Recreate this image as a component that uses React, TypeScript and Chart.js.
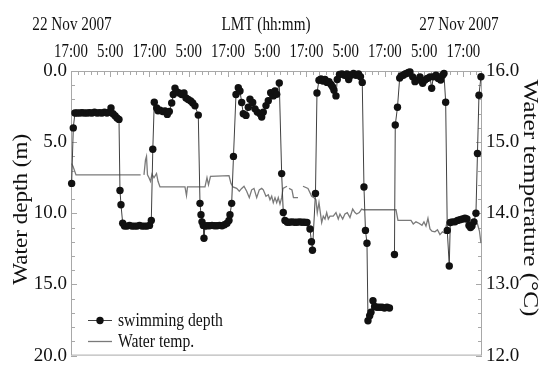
import React, { useEffect, useRef } from 'react';
import { Chart, registerables } from 'chart.js';

Chart.register(...registerables);

// hours since 22 Nov 2007 17:00 LMT
const depthHours = [
  0.2, 0.7, 1.2, 1.83, 2.6, 3.36, 4.13, 4.89, 5.66, 6.42, 7.19, 7.95, 8.72, 9.48, 10.24, 11.0, 11.77, 12.23, 12.84, 13.46, 14.07, 14.68,
  14.98, 15.29, 15.81, 16.36, 17.13, 17.89, 18.65, 19.42, 20.18, 20.95, 21.71, 22.48, 23.24, 24.01, 24.56, 25.02, 25.47,
  26.21, 26.61, 27.22, 28.04, 28.75, 29.45, 30.06, 30.8, 31.28, 31.8, 32.32, 33.12, 33.85, 34.56, 35.17, 35.87, 36.61, 37.22, 37.92, 38.93,
  39.45, 39.76, 40.06, 40.46, 40.67, 40.98, 41.59, 42.35, 43.12, 43.88, 44.65, 45.41, 46.18, 46.94, 47.71, 48.32,
  48.62, 49.14, 49.69, 50.46, 51.16, 51.68, 52.2, 52.69, 53.52, 54.22, 54.74, 55.57, 56.27, 56.97, 57.8, 58.32, 58.81, 59.63, 60.34, 61.07, 61.87, 62.39, 62.91, 63.7,
  64.43, 64.92, 65.44, 66.15, 66.82, 67.58, 68.35, 69.11, 69.88, 70.64, 71.41, 72.17, 73.09, 73.55, 73.85, 74.77, 75.23, 75.84,
  76.45, 77.06, 77.68, 78.29, 78.9, 79.51, 79.97, 80.43, 81.04, 81.44, 82.11, 82.87, 83.64, 84.4, 84.92, 85.63, 86.39, 87.16, 87.92, 88.53, 89.08,
  89.6, 90.06, 90.52, 90.83, 91.35, 91.74, 92.35, 92.87, 93.58, 94.34, 95.11, 95.87, 96.64, 97.4, 98.2, 98.93, 99.17, 99.85, 100.52,
  100.95, 101.62, 102.2, 102.66, 103.2, 103.67, 104.5, 105.2, 105.9, 106.73, 107.55, 108.26, 108.96, 109.79, 110.31, 110.8, 111.62, 112.32, 113.06, 113.67, 114.07,
  114.59, 115.08, 115.69, 116.0, 116.67, 117.43, 118.2, 118.96, 119.72, 120.49, 121.1, 121.71, 122.17, 122.63, 123.24, 123.85, 124.31, 124.77, 125.38,
];
const depthValues = [
  7.9, 4.0, 2.95, 2.95, 2.95, 2.93, 2.95, 2.95, 2.93, 2.95, 2.9, 2.95, 2.93, 2.95, 2.9, 2.95, 2.9, 2.6, 3.0, 3.15, 3.3, 3.4,
  8.4, 9.4, 10.7, 10.9, 10.9, 10.85, 10.9, 10.9, 10.9, 10.85, 10.9, 10.9, 10.9, 10.85, 10.5, 5.5, 2.2,
  2.6, 2.8, 2.75, 2.85, 2.8, 3.05, 2.85, 2.25, 1.65, 1.2, 1.45, 1.55, 1.65, 1.55, 1.9, 2.0, 2.1, 2.25, 2.45, 3.1,
  9.3, 10.1, 10.6, 10.85, 11.75, 10.9, 10.87, 10.87, 10.85, 10.87, 10.87, 10.85, 10.87, 10.8, 10.7, 10.5,
  10.1, 9.3, 6.0, 1.65, 1.18, 1.41, 2.21, 3.0, 3.12, 2.55, 1.98, 2.21, 2.66, 2.89, 3.0, 3.23, 2.89, 2.43, 2.09, 1.52, 1.75, 1.41, 1.64, 0.84,
  7.21, 9.94, 10.51, 10.63, 10.63, 10.6, 10.63, 10.63, 10.6, 10.63, 10.63, 10.65, 11.1, 12.0, 12.6, 8.6, 1.55, 0.65,
  0.55, 0.7, 0.6, 0.8, 0.75, 0.95, 1.1, 1.35, 1.75, 0.6, 0.25, 0.2, 0.3, 0.2, 0.6, 0.3, 0.18, 0.3, 0.2, 0.4, 0.8,
  8.15, 11.2, 12.1, 17.55, 17.2, 16.95, 16.15, 16.55, 16.6, 16.6, 16.6, 16.65, 16.6, 16.65, null, 12.9, 3.8, 2.55, 0.5,
  0.35, 0.3, 0.2, 0.18, 0.1, 0.07, 0.41, 0.75, 0.64, 0.41, 0.86, 0.64, 0.52, 0.41, 1.21, 0.41, 0.3, 0.52, 0.64, 0.3, 0.18,
  2.2, 11.2, 13.7, 10.65, 10.6, 10.6, 10.5, 10.45, 10.4, 10.35, 10.4, 10.85, 11.0, 10.9, 10.6, 10.0, 5.8, 1.7, 0.4,
];

const tempHours = [
  0.15, 0.61, 1.53, 8.87, 16.51, 21.3, 21.6, 22.32, 22.78, 23.09, 23.39, 23.85, 24.31, 24.77, 25.38, 26.15, 26.61, 27.22,
  34.86, 35.32, 35.63, 40.98, 41.59, 42.05, 42.66, 48.32, 48.93, 49.54,
  50.67, 51.47, 52.2, 52.91, 53.73, 54.53, 55.26, 55.96, 56.79, 57.58, 58.32, 58.81, 59.63, 60.34, 60.86, 61.38, 61.87, 62.39, 62.91, 63.39, 63.91, 64.43,
  64.83, 66.06, 66.3, 66.67, 67.58, 68.04, 69.42, 70.0, 70.95, 72.48, 73.61, 74.31, 74.92, 75.32, 75.84,
  76.67, 77.16, 77.68, 78.2, 78.69, 79.2, 80.21, 81.04, 81.74, 82.26, 83.09, 83.79, 84.5, 85.32, 86.15, 86.85, 87.37, 88.17, 88.9,
  89.39, 99.39, 100.0, 103.98, 104.68, 105.5, 106.42, 107.34, 107.95, 108.56, 109.17, 109.79, 110.4, 111.31, 112.08, 112.84, 113.61, 114.37,
  114.98, 123.55, 124.31, 124.92, 125.38,
];
const tempValues = [
  14.7, 14.66, 14.54, 14.54, 14.54, 14.54, null, 14.54, 14.75, 14.8, 14.54, 14.5, 14.45, 14.55, 14.5, 14.56, 14.45, 14.37,
  14.37, 14.25, 14.37, 14.37, 14.5, 14.4, 14.52, 14.53, 14.42, 14.37,
  14.35, 14.31, 14.35, 14.38, 14.31, 14.22, 14.33, 14.35, 14.22, 14.33, 14.35, 14.33, 14.24, 14.26, 14.19, 14.24, 14.15, 14.22, 14.15, 14.22, 14.13, 14.22,
  14.35, 14.38, null, 14.35, 14.33, 14.22, 14.22, null, 14.38, 14.35, 14.24, 14.22, 14.19, 14.01, 14.15,
  13.87, 13.96, 13.92, 14.01, 13.92, 13.96, 13.96, 14.01, 13.92, 13.99, 13.92, 13.99, 14.01, 13.94, 14.06, 14.01, 13.99, 14.01, 14.06,
  14.05, 14.05, 13.9, 13.9, 13.85, 13.88, 13.86, 13.83, 13.88, 13.82, 13.93, 13.78, 13.75, 13.74, 13.77, 13.7, 13.74, 13.72,
  13.88, 13.88, 13.85, 13.75, 13.58,
];

const timeTickHours = [0, 12, 24, 36, 48, 60, 72, 84, 96, 108, 120];
const timeTickLabels = ['17:00', '5:00', '17:00', '5:00', '17:00', '5:00', '17:00', '5:00', '17:00', '5:00', '17:00'];
const depthTicks = [0, 5, 10, 15, 20];
const tempTicks = [12, 13, 14, 15, 16];
const headerLabels = ['22 Nov 2007', 'LMT (hh:mm)', '27 Nov 2007'];
const seriesNames = ['swimming depth', 'Water temp.'];
const axisTitles = ['Water depth (m)', 'Water temperature (°C)'];

const FONT = '"Liberation Serif", "Times New Roman", serif';
const DEPTH_LINE = '#404040';
const DOT = '#111111';
const TEMP_LINE = '#7a7a7a';
const FRAME = '#a8a8a8';

function drawText(ctx: CanvasRenderingContext2D, text: string, x: number, y: number, size: number, sx: number,
  rot = 0, align: CanvasTextAlign = 'center', baseline: CanvasTextBaseline = 'alphabetic') {
  ctx.save();
  ctx.translate(x, y);
  if (rot) ctx.rotate(rot);
  ctx.scale(sx, 1);
  ctx.font = `${size}px ${FONT}`;
  ctx.fillStyle = '#111';
  ctx.textAlign = align;
  ctx.textBaseline = baseline;
  ctx.fillText(text, 0, 0);
  ctx.restore();
}

const decorPlugin = {
  id: 'decor',
  beforeDatasetsDraw(chart: any) {
    const { ctx, chartArea } = chart;
    const { left, top, right, bottom } = chartArea;
    const xs = chart.scales.x, ys = chart.scales.y, y2 = chart.scales.y2;
    ctx.save();
    ctx.strokeStyle = FRAME;
    ctx.lineWidth = 1;
    ctx.strokeRect(left + 0.5, top + 0.5, right - left - 1, bottom - top - 1);
    ctx.beginPath();
    for (let v = 0; v <= 20; v += 1) {
      const y = Math.round(ys.getPixelForValue(v)) + 0.5;
      ctx.moveTo(left, y); ctx.lineTo(left + (v % 5 === 0 ? 6 : 4), y);
    }
    for (let i = 0; i <= 20; i++) {
      const y = Math.round(y2.getPixelForValue(12 + i * 0.2)) + 0.5;
      ctx.moveTo(right, y); ctx.lineTo(right - (i % 5 === 0 ? 6 : 4), y);
    }
    for (let h = 0; h <= 124; h += 2) {
      const x = Math.round(xs.getPixelForValue(h)) + 0.5;
      ctx.moveTo(x, top); ctx.lineTo(x, top + (h % 12 === 0 ? 6 : 4));
    }
    ctx.stroke();
    ctx.restore();
  },
  afterDraw(chart: any) {
    const { ctx, chartArea } = chart;
    const xs = chart.scales.x;
    // header
    drawText(ctx, headerLabels[0], 72, 30, 19, 0.8);
    drawText(ctx, headerLabels[1], 266, 30, 19, 0.8);
    drawText(ctx, headerLabels[2], 459, 30, 19, 0.8);
    // time tick labels
    timeTickHours.forEach((h, i) => {
      drawText(ctx, timeTickLabels[i], xs.getPixelForValue(h), 57, 19, 0.78);
    });
    // axis titles
    drawText(ctx, axisTitles[0], 21, (chartArea.top + chartArea.bottom) / 2 - 4, 22, 1.05, -Math.PI / 2, 'center', 'middle');
    drawText(ctx, axisTitles[1], 530, 198, 22, 1.15, Math.PI / 2, 'center', 'middle');
    // legend
    ctx.save();
    ctx.strokeStyle = DEPTH_LINE; ctx.lineWidth = 1;
    ctx.beginPath(); ctx.moveTo(88, 320.5); ctx.lineTo(112, 320.5); ctx.stroke();
    ctx.fillStyle = DOT;
    ctx.beginPath(); ctx.arc(100, 320.5, 3.7, 0, Math.PI * 2); ctx.fill();
    ctx.strokeStyle = TEMP_LINE; ctx.lineWidth = 1.3;
    ctx.beginPath(); ctx.moveTo(88, 341.5); ctx.lineTo(112, 341.5); ctx.stroke();
    ctx.restore();
    drawText(ctx, seriesNames[0], 118, 326, 18, 0.87, 0, 'left');
    drawText(ctx, seriesNames[1], 118, 347, 18, 0.87, 0, 'left');
  },
};

export default function App() {
  const ref = useRef<HTMLCanvasElement | null>(null);
  useEffect(() => {
    if (!ref.current) return;
    const depthData = depthHours.map((h, i) => ({ x: h, y: depthValues[i] }));
    const tempData = tempHours.map((h, i) => ({ x: h, y: tempValues[i] }));
    const chart = new Chart(ref.current, {
      type: 'line',
      data: {
        datasets: [
          {
            label: seriesNames[0], data: depthData as any, xAxisID: 'x', yAxisID: 'y',
            borderColor: DEPTH_LINE, borderWidth: 1, pointRadius: 3.7, pointHoverRadius: 3.7,
            pointBackgroundColor: DOT, pointBorderColor: DOT, pointBorderWidth: 0,
            tension: 0, spanGaps: false, clip: 8 as any,
          },
          {
            label: seriesNames[1], data: tempData as any, xAxisID: 'x', yAxisID: 'y2',
            borderColor: TEMP_LINE, borderWidth: 1.3, pointRadius: 0, tension: 0, spanGaps: false,
          },
        ],
      },
      options: {
        responsive: false,
        animation: false,
        devicePixelRatio: 1,
        layout: { padding: { left: 0, right: 0, top: 0, bottom: 7 } },
        plugins: { legend: { display: false }, tooltip: { enabled: false }, title: { display: false } },
        scales: {
          x: {
            type: 'linear', position: 'top', min: 0, max: 125.7,
            grid: { display: false, drawTicks: false }, border: { display: false },
            ticks: { display: false },
            afterFit: (s: any) => { s.height = 71; },
          },
          y: {
            type: 'linear', position: 'left', reverse: true, min: 0, max: 20,
            grid: { display: false, drawTicks: false }, border: { display: false },
            afterBuildTicks: (s: any) => { s.ticks = depthTicks.map((v) => ({ value: v })); },
            ticks: { callback: (v: any) => Number(v).toFixed(1), font: { family: FONT, size: 19 }, color: '#111', padding: 4 },
            afterFit: (s: any) => { s.width = 71; },
          },
          y2: {
            type: 'linear', position: 'right', min: 12, max: 16,
            grid: { display: false, drawTicks: false }, border: { display: false },
            afterBuildTicks: (s: any) => { s.ticks = tempTicks.map((v) => ({ value: v })); },
            ticks: { callback: (v: any) => Number(v).toFixed(1), font: { family: FONT, size: 19 }, color: '#111', padding: 4 },
            afterFit: (s: any) => { s.width = 60; },
          },
        },
      } as any,
      plugins: [decorPlugin],
    });
    return () => chart.destroy();
  }, []);
  return (
    <div style={{ position: 'absolute', left: 0, top: 0, width: 542, height: 371, background: '#fff' }}>
      <canvas ref={ref} width={542} height={371} style={{ display: 'block' }} />
    </div>
  );
}
